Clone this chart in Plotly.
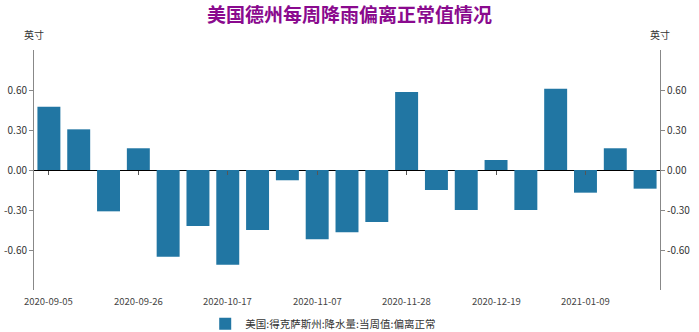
import plotly.graph_objects as go

dates = ["2020-09-05", "2020-09-12", "2020-09-19", "2020-09-26", "2020-10-03", "2020-10-10",
         "2020-10-17", "2020-10-24", "2020-10-31", "2020-11-07", "2020-11-14", "2020-11-21",
         "2020-11-28", "2020-12-05", "2020-12-12", "2020-12-19", "2020-12-26", "2021-01-02",
         "2021-01-09", "2021-01-16", "2021-01-23"]
values = [0.475, 0.305, -0.31, 0.163, -0.65, -0.42, -0.71, -0.45, -0.077, -0.52, -0.467, -0.39,
          0.585, -0.15, -0.30, 0.075, -0.30, 0.61, -0.17, 0.163, -0.14]
y_ticks = [-0.6, -0.3, 0.0, 0.3, 0.6]
y_ticktext = ["-0.60", "-0.30", "0.00", "0.30", "0.60"]
label_dates = dates[::3]

title = "美国德州每周降雨偏离正常值情况"
series_name = "美国:得克萨斯州:降水量:当周值:偏离正常"
unit = "英寸"

FONT = "Noto Sans CJK SC, Noto Sans, sans-serif"
BAR = "#2176a3"

fig = go.Figure()
fig.add_trace(go.Bar(x=dates, y=values, name=series_name, marker_color=BAR,
                     marker_line_width=0, showlegend=True))
# invisible trace on right axis to make it render
fig.add_trace(go.Scatter(x=dates, y=values, yaxis="y2", mode="markers",
                         marker=dict(opacity=0), showlegend=False, hoverinfo="skip"))

fig.update_layout(
    width=699, height=332,
    margin=dict(l=34, r=39, t=50, b=42, autoexpand=False),
    paper_bgcolor="white", plot_bgcolor="white",
    font=dict(family=FONT, size=10, color="#333333"),
    title=dict(text="<b>" + title + "</b>", x=0.5, xanchor="center", y=0.955, yanchor="middle",
               font=dict(size=19, color="#8a0a8e", family=FONT)),
    bargap=0.23,
    showlegend=True,
    legend=dict(orientation="h", x=0.462, xanchor="center", y=-0.08, yanchor="top",
                font=dict(size=10.5, color="#333333"), itemwidth=30),
    xaxis=dict(type="category", anchor="free", position=0.5, showline=False,
               showticklabels=False, ticks="outside", ticklen=4, tickcolor="#555555",
               tickvals=label_dates, showgrid=False, zeroline=False, automargin=False,
               range=[-0.5, len(dates) - 0.5]),
    yaxis=dict(range=[-0.9, 0.9], tickvals=y_ticks, ticktext=y_ticktext, showgrid=False,
               showline=True, linecolor="#888888", linewidth=1, ticks="outside", ticklen=4,
               tickcolor="#888888", zeroline=True, zerolinecolor="#000000", zerolinewidth=1.2,
               automargin=False, tickfont=dict(size=10, color="#333333")),
    yaxis2=dict(range=[-0.9, 0.9], tickvals=y_ticks, ticktext=y_ticktext, showgrid=False,
                overlaying="y", side="right", showline=True, linecolor="#888888", linewidth=1,
                ticks="outside", ticklen=4, tickcolor="#888888", zeroline=False,
                automargin=False, tickfont=dict(size=10, color="#333333")),
)

for d in label_dates:
    fig.add_annotation(x=d, xref="x", y=0, yref="paper", yanchor="top", yshift=-2,
                       text=d, showarrow=False, font=dict(size=9.5, color="#444444"))

fig.add_annotation(x=0, xref="paper", xanchor="center", y=1, yref="paper", yanchor="bottom",
                   yshift=6, text=unit, showarrow=False, font=dict(size=10, color="#333333"))
fig.add_annotation(x=1, xref="paper", xanchor="center", y=1, yref="paper", yanchor="bottom",
                   yshift=6, text=unit, showarrow=False, font=dict(size=10, color="#333333"))

fig.write_html("out.html")
